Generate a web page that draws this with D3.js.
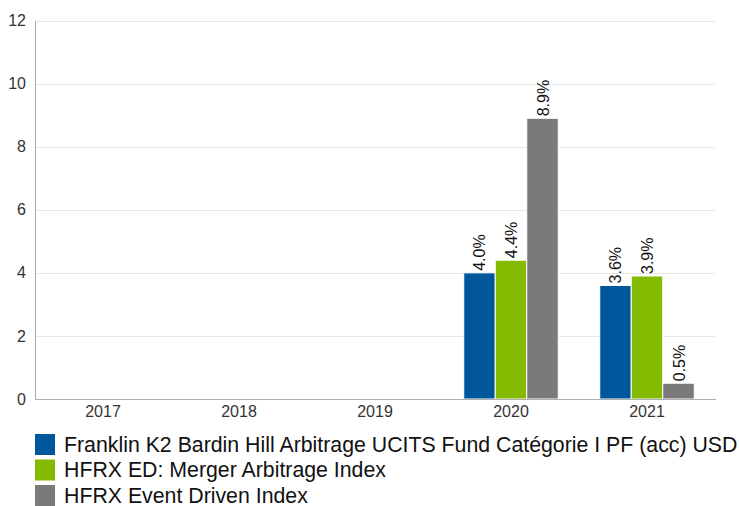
<!DOCTYPE html>
<html>
<head>
<meta charset="utf-8">
<script src="https://cdn.jsdelivr.net/npm/d3@7"></script>
<style>
  body { margin: 0; background: #fff; }
  text { font-family: "Liberation Sans", Arial, sans-serif; }
</style>
</head>
<body>
<svg width="739" height="506"></svg>
<script>
// chart data
var years = ["2017", "2018", "2019", "2020", "2021"]
var seriesNames = [
  "Franklin K2 Bardin Hill Arbitrage UCITS Fund Catégorie I PF (acc) USD",
  "HFRX ED: Merger Arbitrage Index",
  "HFRX Event Driven Index"
]
var fundValues = [null, null, null, 4.0, 3.6]
var mergerValues = [null, null, null, 4.4, 3.9]
var eventValues = [null, null, null, 8.9, 0.5]
var yTicks = [0, 2, 4, 6, 8, 10, 12]
var colors = ["#00579b", "#84bb00", "#7a7a7a"]

var svg = d3.select("svg")
var plotLeft = 35, plotRight = 715, plotTop = 20.5, plotBottom = 399

var x0 = d3.scaleBand().domain(years).range([plotLeft, plotRight]).paddingInner(0.305).paddingOuter(0.1525)
var x1 = d3.scaleBand().domain([0, 1, 2]).range([0, x0.bandwidth()])
var y = d3.scaleLinear().domain([0, 12]).range([plotBottom, plotTop])

// gridlines
svg.append("g")
  .selectAll("line")
  .data(yTicks.filter(function(d) { return d > 0 }))
  .enter().append("line")
  .attr("x1", plotLeft).attr("x2", plotRight)
  .attr("y1", function(d) { return Math.round(y(d)) + 0.5 })
  .attr("y2", function(d) { return Math.round(y(d)) + 0.5 })
  .attr("stroke", "#e6e6e6")

// y axis
var yAxis = svg.append("g")
  .attr("transform", "translate(" + plotLeft + ",0)")
  .call(d3.axisLeft(y).tickValues(yTicks).tickSize(0).tickPadding(9).tickSizeOuter(0))
yAxis.select(".domain").attr("stroke", "#b0b0b0")
yAxis.selectAll("text").attr("font-size", "16px").attr("fill", "#333")
  .attr("font-family", "Liberation Sans, Arial, sans-serif")

var rows = years.map(function(yr, i) {
  return { year: yr, vals: [fundValues[i], mergerValues[i], eventValues[i]] }
})

var groups = svg.append("g").selectAll("g")
  .data(rows)
  .enter().append("g")
  .attr("transform", function(d) { return "translate(" + x0(d.year) + ",0)" })

var bars = groups.selectAll("g")
  .data(function(d) { return d.vals.map(function(v, k) { return { k: k, v: v } }).filter(function(e) { return e.v != null }) })
  .enter().append("g")

bars.append("rect")
  .attr("x", function(d) { return x1(d.k) })
  .attr("y", function(d) { return y(d.v) })
  .attr("width", x1.bandwidth())
  .attr("height", function(d) { return y(0) - y(d.v) })
  .attr("fill", function(d) { return colors[d.k] })
  .attr("stroke", "#fff")
  .attr("stroke-width", 1)

bars.append("text")
  .attr("transform", function(d) {
    return "translate(" + (x1(d.k) + x1.bandwidth() / 2 + 6) + "," + (y(d.v) - 2) + ") rotate(-90)"
  })
  .attr("font-size", "16px")
  .attr("fill", "#111")
  .text(function(d) { return d.v.toFixed(1) + "%" })

// x axis
var xAxis = svg.append("g")
  .attr("transform", "translate(0," + plotBottom + ")")
  .call(d3.axisBottom(x0).tickSize(0).tickPadding(7).tickSizeOuter(0))
xAxis.select(".domain").attr("stroke", "#b0b0b0").attr("d", "M" + plotLeft + ",0.5H" + (plotRight + 1))
xAxis.selectAll("text").attr("font-size", "16px").attr("fill", "#333")
  .attr("font-family", "Liberation Sans, Arial, sans-serif")

// legend
var legend = svg.append("g").selectAll("g")
  .data(seriesNames)
  .enter().append("g")
  .attr("transform", function(d, i) { return "translate(35," + (434 + i * 25.5) + ")" })

legend.append("rect")
  .attr("width", 20).attr("height", 21)
  .attr("fill", function(d, i) { return colors[i] })

legend.append("text")
  .attr("x", 29).attr("y", 17.5)
  .attr("font-size", "21.3px")
  .attr("fill", "#111")
  .text(function(d) { return d })
</script>
</body>
</html>
